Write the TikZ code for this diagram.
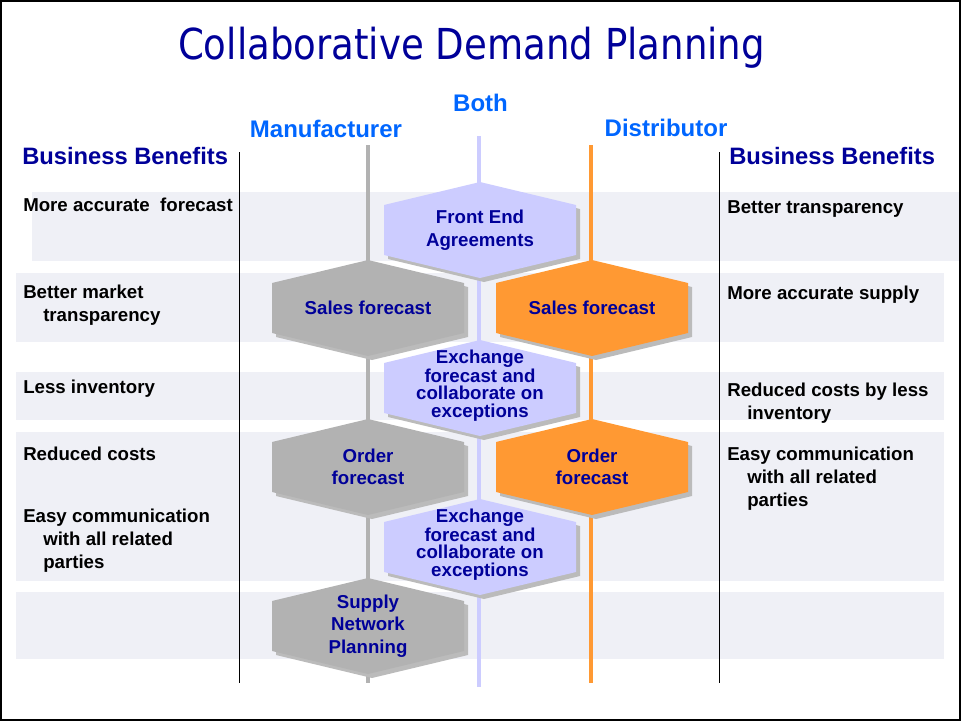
\documentclass[tikz,border=0pt]{standalone}
\usepackage{fontspec}
\setmainfont{Liberation Sans}
\newfontfamily\titlefont[FakeStretch=0.87]{DejaVu Sans}
\definecolor{navyblue}{HTML}{000099}
\definecolor{headblue}{HTML}{0066FF}
\definecolor{mfgray}{HTML}{B2B2B2}
\definecolor{bothlav}{HTML}{CCCCFF}
\definecolor{distorange}{HTML}{FF9933}
\definecolor{bandgray}{HTML}{EFF0F6}
\definecolor{shadegray}{HTML}{BBBBBB}
% hexagon cell: [text options] name, x, y, fill, text
\newcommand{\hexcell}[6][]{%
  \begin{scope}[shift={(#3,#4)}]
    \fill[shadegray] (4,-44) -- (100,-21) -- (100,29) -- (4,52) -- (-92,29) -- (-92,-21) -- cycle;
    \fill[#5] (0,-48) -- (96,-25) -- (96,25) -- (0,48) -- (-96,25) -- (-96,-25) -- cycle;
  \end{scope}
  \node[hextext,#1] (#2) at (#3,#4) {#6};
}
\begin{document}
\begin{tikzpicture}[x=0.75pt,y=-0.75pt,
  hextext/.style={align=center,inner sep=0pt,text=navyblue,font=\bfseries\fontsize{14}{16.9}\selectfont},
  tight/.style={font=\bfseries\fontsize{14}{13.1}\selectfont},
  benefit/.style={anchor=base west,align=left,inner sep=0pt,font=\bfseries\fontsize{14}{16.9}\selectfont},
  colhead/.style={anchor=base,inner sep=0pt,text=headblue,font=\bfseries\fontsize{18}{21}\selectfont},
  bbhead/.style={anchor=base west,inner sep=0pt,text=navyblue,font=\bfseries\fontsize{17.8}{21}\selectfont},
  band/.style={fill=bandgray},
  divider/.style={line width=0.75pt},
  lane/.style={line width=3pt}]
\useasboundingbox (0,0) rectangle (961,721);

% background bands
\fill[band] (32,192) rectangle (960,261);
\fill[band] (16,273) rectangle (944,342);
\fill[band] (16,372) rectangle (944,420);
\fill[band] (16,432) rectangle (944,581);
\fill[band] (16,592) rectangle (944,659);

% divider and lane lines
\coordinate (ldivtop) at (239,152);
\coordinate (ldivbot) at (239,683);
\coordinate (rdivtop) at (719,152);
\coordinate (rdivbot) at (719,683);
\coordinate (mftop) at (368,145);
\coordinate (mfbot) at (368,683);
\coordinate (bothtop) at (479,136);
\coordinate (bothbot) at (479,687);
\coordinate (disttop) at (591,145);
\coordinate (distbot) at (591,683);
\draw[divider] (ldivtop) -- (ldivbot);
\draw[divider] (rdivtop) -- (rdivbot);
\draw[lane,mfgray] (mftop) -- (mfbot);
\draw[lane,bothlav] (bothtop) -- (bothbot);
\draw[lane,distorange] (disttop) -- (distbot);

% process cells
\hexcell{frontend}{480}{230}{bothlav}{Front End\\Agreements}
\hexcell{mfsales}{368}{308}{mfgray}{Sales forecast}
\hexcell{distsales}{592}{308}{distorange}{Sales forecast}
\hexcell[tight,yshift=1.8pt]{exchone}{480}{388}{bothlav}{Exchange\\forecast and\\collaborate on\\exceptions}
\hexcell{mforder}{368}{467}{mfgray}{Order\\forecast}
\hexcell{distorder}{592}{467}{distorange}{Order\\forecast}
\hexcell[tight,yshift=1.8pt]{exchtwo}{480}{547}{bothlav}{Exchange\\forecast and\\collaborate on\\exceptions}
\hexcell{supply}{368}{626}{mfgray}{Supply\\Network\\Planning}

% title and headings
\node[anchor=base,inner sep=0pt,text=navyblue,font=\titlefont\fontsize{32}{38}\selectfont] (title) at (471.5,59) {Collaborative Demand Planning};
\node[colhead] (both) at (480.5,111) {Both};
\node[colhead] (manuf) at (326,137) {Manufacturer};
\node[colhead] (distr) at (666,136) {Distributor};
\node[bbhead] (bbleft) at (22,164) {Business Benefits};
\node[bbhead] (bbright) at (729,164) {Business Benefits};

% benefits, manufacturer side (base = last line)
\node[benefit] (lbone) at (23,211) {More accurate\ \ forecast};
\node[benefit] (lbtwo) at (23,321.5) {Better market\\\hspace*{15pt}transparency};
\node[benefit] (lbthree) at (23,393) {Less inventory};
\node[benefit] (lbfour) at (23,460) {Reduced costs};
\node[benefit] (lbfive) at (23,568) {Easy communication\\\hspace*{15pt}with all related\\\hspace*{15pt}parties};

% benefits, distributor side
\node[benefit] (rbone) at (727,213) {Better transparency};
\node[benefit] (rbtwo) at (727,299) {More accurate supply};
\node[benefit] (rbthree) at (727,419.5) {Reduced costs by less\\\hspace*{15pt}inventory};
\node[benefit] (rbfour) at (727,506) {Easy communication\\\hspace*{15pt}with all related\\\hspace*{15pt}parties};

% frame
\draw[line width=1.5pt] (1,1) rectangle (960,720);
\end{tikzpicture}
\end{document}
